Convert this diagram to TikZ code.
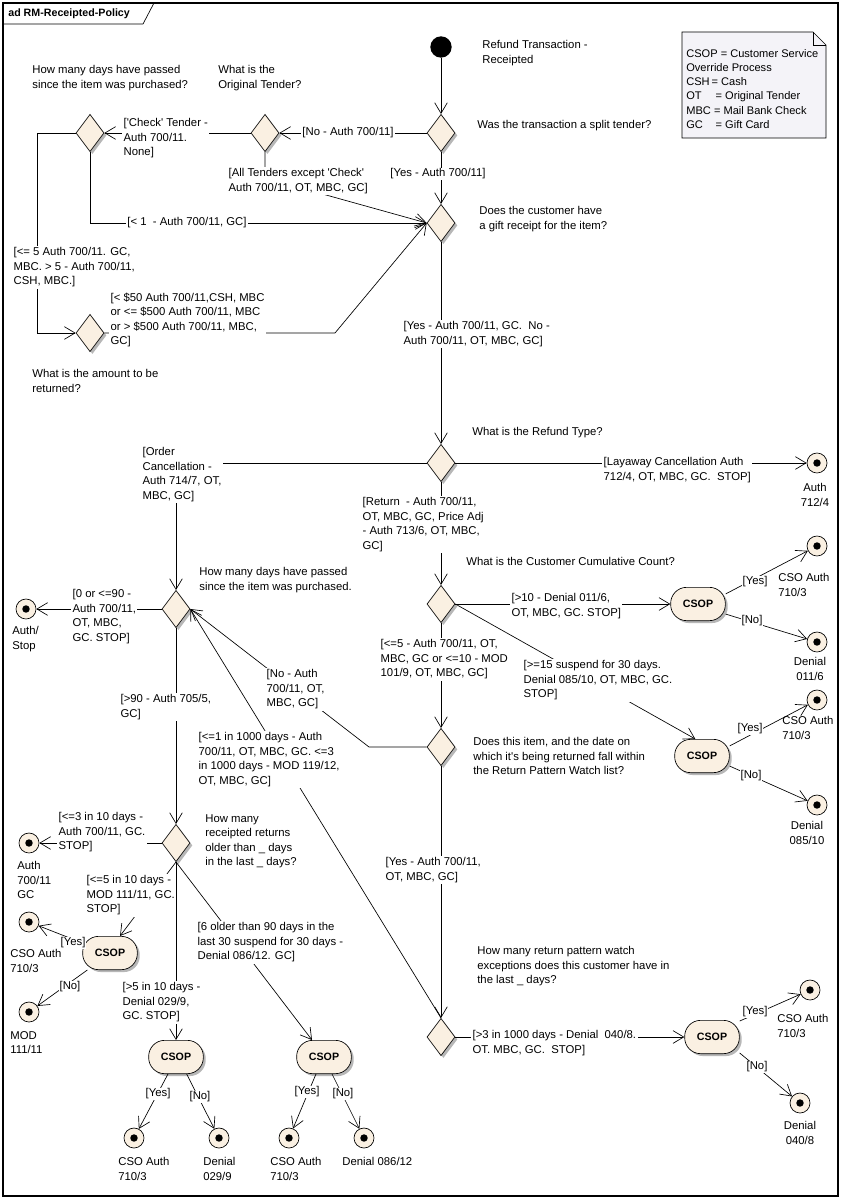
\documentclass[tikz,border=0pt]{standalone}
\usepackage{fontspec}
\setmainfont{Liberation Sans}
\usetikzlibrary{shapes.geometric,arrows.meta,shadows}
\definecolor{beige}{RGB}{250,240,226}
\definecolor{notefill}{RGB}{244,243,248}
\begin{document}
\begin{tikzpicture}[x=0.75pt,y=-0.75pt, line width=0.5pt,
  every node/.style={font=\fontsize{8.5}{10.9}\selectfont},
  shd/.style={drop shadow={shadow xshift=1.8pt,shadow yshift=-1.8pt,fill=black!35,opacity=0.8}},
  dec/.style={diamond,draw,fill=beige,minimum width=21pt,minimum height=28pt,inner sep=0pt,shd},
  csop/.style={rectangle,rounded corners=12pt,draw,fill=beige,minimum width=41pt,minimum height=25pt,inner sep=0pt,font=\fontsize{8}{10}\selectfont\bfseries,shd},
  fin/.style={circle,draw,fill=beige,minimum size=15pt,inner sep=0pt,path picture={\fill[black] (path picture bounding box.center) circle (2.8pt);}},
  arr/.style={-{Straight Barb[length=8pt,width=9.5pt]}},
  lab/.style={fill=white,inner sep=1pt,align=left,anchor=north west},
  txt/.style={inner sep=0pt,align=left,anchor=north west},
  ctxt/.style={inner sep=0pt,align=center,anchor=north},
  yn/.style={fill=white,inner sep=0.8pt}]
\useasboundingbox (0,0) rectangle (843,1202);
\fill[white] (0,0) rectangle (843,1202);
% frame
\draw[line width=0.8pt] (3,3) rectangle (838,1196);
\draw (3,24) -- (143,24) -- (154,3);
\node[anchor=west,inner sep=0pt,font=\fontsize{8}{10}\selectfont\bfseries] (title) at (8,14) {ad RM-Receipted-Policy};
% note
\draw[fill=notefill] (682,32) -- (813,32) -- (826,45) -- (826,138) -- (682,138) -- cycle;
\draw (813,32) -- (813,45) -- (826,45);
\node[txt,font=\fontsize{8.3}{10.65}\selectfont] (note) at (686,49) {CSOP = Customer Service\\Override Process\\\makebox[19pt][l]{CSH}= Cash\\\makebox[22pt][l]{OT}= Original Tender\\MBC = Mail Bank Check\\\makebox[22pt][l]{GC}= Gift Card};
% activity nodes
\node[circle,fill=black,minimum size=16pt,inner sep=0pt] (start) at (441,47) {};
\node[dec] (d1) at (441,133) {};
\node[dec] (dt) at (265,133) {};
\node[dec] (dd1) at (90,133) {};
\node[dec] (d2) at (441,223) {};
\node[dec] (da) at (90,333) {};
\node[dec] (d3) at (441,463) {};
\node[dec] (d4) at (176,609) {};
\node[dec] (d5) at (441,604) {};
\node[dec] (d7) at (441,747) {};
\node[dec] (d6) at (176,843) {};
\node[dec] (d8) at (441,1037) {};
\node[csop] (c1) at (110,953) {CSOP};
\node[csop] (c2) at (176,1057) {CSOP};
\node[csop] (c3) at (324,1057) {CSOP};
\node[csop] (c4) at (698,604) {CSOP};
\node[csop] (c5) at (702,756) {CSOP};
\node[csop] (c6) at (712,1037) {CSOP};
\node[fin] (f1) at (817,463) {};
\node[fin] (fstop) at (26,609) {};
\node[fin] (f700) at (29,843) {};
\node[fin] (fc1y) at (29,922) {};
\node[fin] (fc1n) at (29,1012) {};
\node[fin] (fc2y) at (134,1138) {};
\node[fin] (fc2n) at (219,1138) {};
\node[fin] (fc3y) at (289,1138) {};
\node[fin] (fc3n) at (364,1138) {};
\node[fin] (fc4y) at (817,546) {};
\node[fin] (fc4n) at (817,642) {};
\node[fin] (fc5y) at (817,700) {};
\node[fin] (fc5n) at (817,805) {};
\node[fin] (fc6y) at (810,990) {};
\node[fin] (fc6n) at (800,1103) {};
% connectors
\draw[arr] (start) -- (d1);
\draw[arr] (d1.west) -- (dt.east);
\draw[arr] (dt.west) -- (dd1.east);
\draw[arr] (d1) -- (d2);
\draw[arr] (dt.south) -- (265,178) -- (d2.west);
\draw[arr] (dd1.south) -- (90,223) -- (d2.west);
\draw[arr] (dd1.west) -- (37,133) -- (37,333) -- (da.west);
\draw[arr] (da.east) -- (335,333) -- (d2.west);
\draw[arr] (d2) -- (d3);
\draw[arr] (d3.east) -- (f1);
\draw[arr] (d3.west) -- (176,463) -- (d4.north);
\draw[arr] (d3) -- (d5);
\draw[arr] (d4.west) -- (fstop);
\draw[arr] (d5.east) -- (c4.west);
\draw[arr] (c4.20) -- (fc4y);
\draw[arr] (c4.-20) -- (fc4n);
\draw[arr] (d5.east) -- ([xshift=-5pt]c5.north);
\draw[arr] (c5.20) -- (fc5y);
\draw[arr] (c5.-20) -- (fc5n);
\draw[arr] (d5) -- (d7);
\draw[arr] (d7.west) -- (369,747) -- (d4.east);
\draw[arr] (d4) -- (d6);
\draw[arr] (d7) -- (d8);
\draw[arr] (d8.north) -- (d4.east);
\draw[arr] (d6.west) -- (f700);
\draw[arr] (d6.south) -- ([xshift=7.5pt]c1.north);
\draw[arr] (c1.160) -- (fc1y);
\draw[arr] ([xshift=-17pt]c1.south) -- (fc1n);
\draw[arr] (d6) -- (c2);
\draw[arr] (d6.south) -- ([xshift=-9pt]c3.north);
\draw[arr] ([xshift=-6pt]c2.south) -- (fc2y);
\draw[arr] ([xshift=8pt]c2.south) -- (fc2n);
\draw[arr] ([xshift=-6pt]c3.south) -- (fc3y);
\draw[arr] ([xshift=6pt]c3.south) -- (fc3n);
\draw[arr] (d8.east) -- (c6.west);
\draw[arr] (c6.30) -- (fc6y);
\draw[arr] (c6.-30) -- (fc6n);
% descriptive texts
\node[txt] (tstart) at (482,40) {Refund Transaction -\\Receipted};
\node[txt] (tsplit) at (477,120) {Was the transaction a split tender?};
\node[txt] (tdays1) at (32,65) {How many days have passed\\since the item was purchased?};
\node[txt] (ttender) at (218,65) {What is the\\Original Tender?};
\node[txt] (tgift) at (479,206) {Does the customer have\\a gift receipt for the item?};
\node[txt] (tamt) at (32,369) {What is the amount to be\\returned?};
\node[txt] (ttype) at (472,427) {What is the Refund Type?};
\node[txt] (tdays2) at (199,567) {How many days have passed\\since the item was purchased.};
\node[txt] (tcum) at (466,557) {What is the Customer Cumulative Count?};
\node[txt] (twatch) at (473,737) {Does this item, and the date on\\which it\textquotesingle s being returned fall within\\the Return Pattern Watch list?};
\node[txt] (trecpt) at (205,814) {How many\\receipted returns\\older than \_ days\\in the last \_ days?};
\node[txt] (texc) at (477,946) {How many return pattern watch\\exceptions does this customer have in\\the last \_ days?};
% final labels
\node[ctxt] (tf1) at (815,483) {Auth\\712/4};
\node[txt] (tfstop) at (12,626) {Auth/\\Stop};
\node[txt] (tf700) at (17,861) {Auth\\700/11\\GC};
\node[txt] (tfc1y) at (10,949) {CSO Auth\\710/3};
\node[txt] (tfc1n) at (10,1031) {MOD\\111/11};
\node[txt] (tfc2y) at (118,1157) {CSO Auth\\710/3};
\node[txt] (tfc2n) at (203,1157) {Denial\\029/9};
\node[txt] (tfc3y) at (270,1157) {CSO Auth\\710/3};
\node[txt] (tfc3n) at (342,1157) {Denial 086/12};
\node[txt] (tfc4y) at (778,573) {CSO Auth\\710/3};
\node[ctxt] (tfc4n) at (810,657) {Denial\\011/6};
\node[txt] (tfc5y) at (782,716) {CSO Auth\\710/3};
\node[ctxt] (tfc5n) at (807,821) {Denial\\085/10};
\node[txt] (tfc6y) at (777,1014) {CSO Auth\\710/3};
\node[ctxt] (tfc6n) at (800,1121) {Denial\\040/8};
% guard labels
\node[yn] (lno1) at (348,133) {[No - Auth 700/11]};
\node[lab] (lcheck) at (122,117) {[\textquotesingle Check\textquotesingle\ Tender -\\Auth 700/11.\\None]};
\node[yn] (lyes1) at (438,174) {[Yes - Auth 700/11]};
\node[lab] (lall) at (227,167) {[All Tenders except \textquotesingle Check\textquotesingle\\Auth 700/11, OT, MBC, GC]};
\node[yn] (llt1) at (187,223) {[< 1 \ - Auth 700/11, GC]};
\node[lab] (lle5) at (12,246) {[<= 5 Auth 700/11. GC,\\MBC. > 5 - Auth 700/11,\\CSH, MBC.]};
\node[lab] (lamt) at (109,291) {[< \$50 Auth 700/11,CSH, MBC\\or <= \$500 Auth 700/11, MBC\\or > \$500 Auth 700/11, MBC,\\GC]};
\node[lab] (lyes2) at (402,320) {[Yes - Auth 700/11, GC. \ No -\\Auth 700/11, OT, MBC, GC]};
\node[lab] (llay) at (602,456) {[Layaway Cancellation Auth\\712/4, OT, MBC, GC. \ STOP]};
\node[lab] (lorder) at (141,446) {[Order\\Cancellation -\\Auth 714/7, OT,\\MBC, GC]};
\node[lab] (lret) at (361,496) {[Return \ - Auth 700/11,\\OT, MBC, GC, Price Adj\\- Auth 713/6, OT, MBC,\\GC]};
\node[lab] (l090) at (71,588) {[0 or <=90 -\\Auth 700/11,\\OT, MBC,\\GC. STOP]};
\node[lab] (lgt10) at (510,592) {[>10 - Denial 011/6,\\OT, MBC, GC. STOP]};
\node[lab] (lge15) at (522,659) {[>=15 suspend for 30 days.\\Denial 085/10, OT, MBC, GC.\\STOP]};
\node[lab] (lle5b) at (379,638) {[<=5 - Auth 700/11, OT,\\MBC, GC or <=10 - MOD\\101/9, OT, MBC, GC]};
\node[lab] (lnoauth) at (265,668) {[No - Auth\\700/11, OT,\\MBC, GC]};
\node[lab] (lgt90) at (119,693) {[>90 - Auth 705/5,\\GC]};
\node[lab] (lle1) at (197,731) {[<=1 in 1000 days - Auth\\700/11, OT, MBC, GC. <=3\\in 1000 days - MOD 119/12,\\OT, MBC, GC]};
\node[lab] (lyes3) at (384,856) {[Yes - Auth 700/11,\\OT, MBC, GC]};
\node[lab] (lle3) at (57,811) {[<=3 in 10 days -\\Auth 700/11, GC.\\STOP]};
\node[lab] (lle5c) at (85,874) {[<=5 in 10 days -\\MOD 111/11, GC.\\STOP]};
\node[lab] (l6old) at (196,921) {[6 older than 90 days in the\\last 30 suspend for 30 days -\\Denial 086/12. GC]};
\node[lab] (lgt5) at (121,981) {[>5 in 10 days -\\Denial 029/9,\\GC. STOP]};
\node[lab] (lgt3) at (471,1029) {[>3 in 1000 days - Denial \ 040/8.\\OT. MBC, GC. \ STOP]};
% yes / no labels
\node[yn] (y4) at (755,582) {[Yes]};
\node[yn] (n4) at (752,621) {[No]};
\node[yn] (y5) at (750,729) {[Yes]};
\node[yn] (n5) at (751,776) {[No]};
\node[yn] (y6) at (755,1012) {[Yes]};
\node[yn] (n6) at (757,1067) {[No]};
\node[yn] (y1) at (73,943) {[Yes]};
\node[yn] (n1) at (70,987) {[No]};
\node[yn] (y2) at (158,1094) {[Yes]};
\node[yn] (n2) at (200,1097) {[No]};
\node[yn] (y3) at (307,1092) {[Yes]};
\node[yn] (n3) at (343,1094) {[No]};
\end{tikzpicture}
\end{document}
